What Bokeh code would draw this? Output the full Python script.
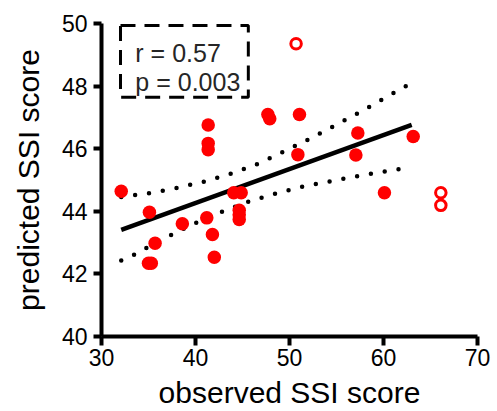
from bokeh.plotting import figure
from bokeh.models import Range1d, FixedTicker, Label, BoxAnnotation
from bokeh.embed import file_html
from bokeh.resources import INLINE

# ---- data ----
obs_x = [32.1, 35.1, 35.7, 35.0, 35.3, 38.6, 41.2, 41.35, 41.35, 41.35, 41.8, 42.0,
         44.07, 44.86, 44.65, 44.65, 44.65, 47.7, 47.9, 50.89, 51.06, 57.06, 57.27,
         60.1, 63.16]
pred_y = [44.64, 43.97, 42.98, 42.34, 42.34, 43.6, 43.79, 46.76, 46.17, 45.97, 43.26,
          42.53, 44.59, 44.59, 44.03, 43.89, 43.74, 47.09, 46.96, 45.81, 47.09, 45.8,
          46.5, 44.59, 46.39]

outlier_x = [50.7, 66.1, 66.1]
outlier_y = [49.35, 44.59, 44.19]

fit_x = [32.1, 63.0]
fit_y = [43.41, 46.76]

ci_up_x = [32.1, 35.1, 38.1, 41.06, 44.0, 46.84, 49.6, 52.3, 55.0, 57.7, 60.3, 63.0]
ci_up_y = [44.46, 44.58, 44.75, 44.96, 45.22, 45.54, 45.94, 46.34, 46.77, 47.2, 47.65, 48.1]
ci_lo_x = [32.1, 33.4, 34.75, 37.45, 40.17, 43.0, 45.85, 48.8, 51.7, 54.7, 57.7, 60.7, 63.0]
ci_lo_y = [42.43, 42.6, 42.82, 43.25, 43.65, 44.01, 44.33, 44.59, 44.81, 44.98, 45.15, 45.3, 45.42]

x_ticks = [30, 40, 50, 60, 70]
y_ticks = [40, 42, 44, 46, 48, 50]
stat_lines = ["r = 0.57", "p = 0.003"]

FONT = "Liberation Sans"
RED = "#ff0000"

p = figure(width=497, height=411, x_range=Range1d(30, 70), y_range=Range1d(40, 50),
           output_backend="svg", toolbar_location=None,
           min_border_left=101, min_border_top=23, min_border_right=20, min_border_bottom=75)
p.outline_line_color = None
p.grid.visible = False
p.background_fill_color = "white"
p.border_fill_color = "white"

for ax, ticks in ((p.xaxis, x_ticks), (p.yaxis, y_ticks)):
    ax.ticker = FixedTicker(ticks=ticks)
    ax.axis_line_width = 4
    ax.axis_line_color = "black"
    ax.major_tick_line_width = 4
    ax.major_tick_line_color = "black"
    ax.major_tick_in = 0
    ax.minor_tick_line_color = None
    ax.major_label_text_font = FONT
    ax.major_label_text_font_size = "23px"
    ax.major_label_text_color = "black"
    ax.axis_label_text_font = FONT
    ax.axis_label_text_font_size = "30px"
    ax.axis_label_text_font_style = "normal"
    ax.axis_label_text_color = "black"

p.xaxis.major_tick_out = 9
p.yaxis.major_tick_out = 8
p.xaxis.major_label_standoff = 3
p.yaxis.major_label_standoff = 6
p.xaxis.axis_label = "observed SSI score"
p.yaxis.axis_label = "predicted SSI score"
p.xaxis.axis_label_standoff = 7
p.yaxis.axis_label_standoff = 14

# confidence band (dotted)
for xs, ys in ((ci_up_x, ci_up_y), (ci_lo_x, ci_lo_y)):
    p.line(xs, ys, line_color="black", line_width=4.5, line_dash="0 14", line_cap="round")

# regression line
p.line(fit_x, fit_y, line_color="black", line_width=4.5)

# points
p.scatter(obs_x, pred_y, marker="circle", size=13.5, fill_color=RED, line_color=None)
p.scatter(outlier_x, outlier_y, marker="circle", size=10.5, fill_color="white",
          line_color=RED, line_width=3)

# stats box
box = BoxAnnotation(left=32.02, right=45.62, top=49.94, bottom=47.64,
                    fill_color=None, fill_alpha=0, line_color="black", line_alpha=1.0,
                    line_width=3, line_dash="15 9")
p.add_layout(box)
for txt, yy in zip(stat_lines, [49.06, 48.12]):
    p.add_layout(Label(x=33.6, y=yy, text=txt, text_font=FONT, text_font_size="25px",
                       text_color="#262626", text_baseline="alphabetic", text_align="left"))

open("out.html", "w").write(file_html(p, INLINE))
